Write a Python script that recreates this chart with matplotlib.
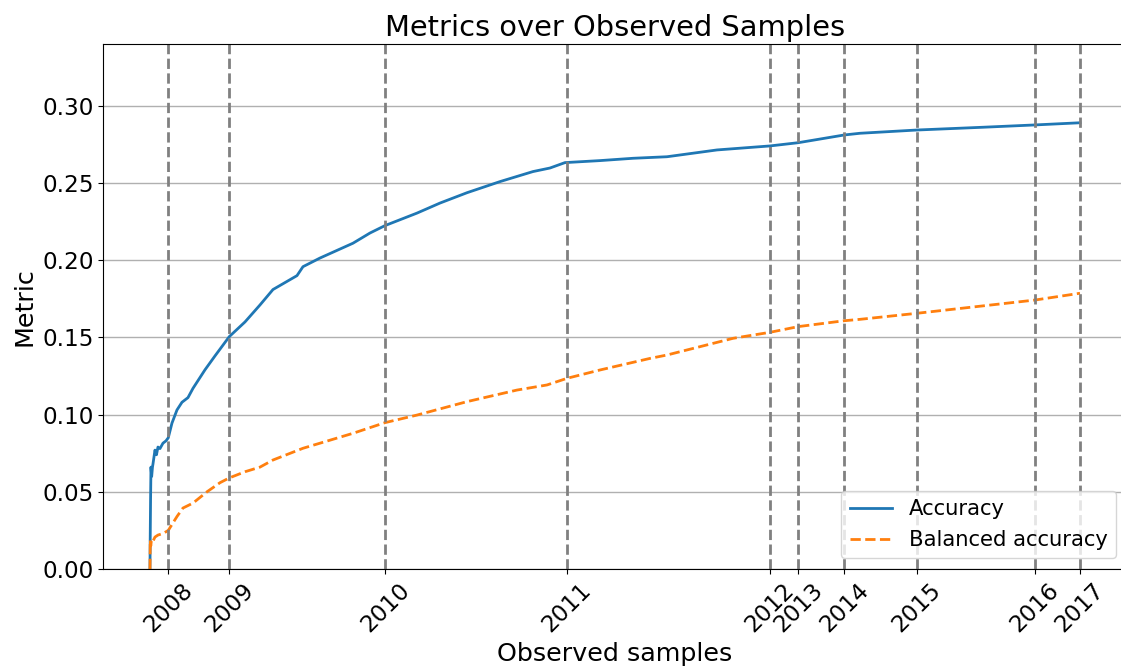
import matplotlib.pyplot as plt

# sample index where each year starts
years = ['2008', '2009', '2010', '2011', '2012', '2013', '2014', '2015', '2016', '2017']
year_start = [1830, 7930, 23500, 41670, 62000, 64830, 69430, 76670, 88500, 93000]

# running accuracy after n observed samples
acc_samples = [0, 20, 60, 100, 170, 250, 300, 500, 650, 800, 1000, 1300, 1600,
               1830, 2200, 2700, 3200, 3800, 4300, 5000, 5500, 6500, 7930, 9500,
               11000, 12300, 14700, 15300, 17000, 20300, 22000, 23500, 26700,
               29000, 31700, 35000, 38300, 40000, 41500, 45000, 48300, 51700,
               56700, 62000, 64830, 69430, 71000, 76670, 83300, 88500, 93000]
accuracy = [0.000, 0.017, 0.045, 0.066, 0.060, 0.066, 0.068, 0.077, 0.074, 0.079,
            0.078, 0.0815, 0.083, 0.085, 0.0945, 0.103, 0.108, 0.111, 0.117, 0.124,
            0.129, 0.138, 0.1505, 0.160, 0.171, 0.181, 0.190, 0.1958, 0.2014, 0.211,
            0.2176, 0.2224, 0.2305, 0.237, 0.2437, 0.2509, 0.2574, 0.2597, 0.2632,
            0.2645, 0.266, 0.267, 0.2714, 0.274, 0.2761, 0.2811, 0.2822, 0.2843,
            0.2861, 0.2876, 0.289]

# running balanced accuracy
bal_samples = [0, 30, 80, 150, 300, 500, 800, 1300, 1830, 2700, 3300, 4300, 5700,
               7000, 7930, 9500, 11000, 12300, 15300, 20300, 23500, 26700, 31700,
               36700, 39700, 41700, 45000, 50000, 51700, 58300, 62000, 64830, 69430,
               71000, 76670, 88500, 93000]
balanced = [0.000, 0.0188, 0.015, 0.019, 0.018, 0.0207, 0.022, 0.023, 0.025, 0.034,
            0.0395, 0.0427, 0.050, 0.0559, 0.059, 0.063, 0.066, 0.0706, 0.0782,
            0.0879, 0.0948, 0.0997, 0.1084, 0.1159, 0.1192, 0.1235, 0.1289, 0.1364,
            0.1386, 0.1494, 0.1533, 0.157, 0.1608, 0.1617, 0.1656, 0.1742, 0.1786]

fig = plt.figure(figsize=(11.21, 6.7), dpi=100)
ax = fig.add_axes([0.0923, 0.1507, 0.9126, 0.7836])

ax.plot(acc_samples, accuracy, color='#1f77b4', lw=2, label='Accuracy')
ax.plot(bal_samples, balanced, color='#ff7f0e', lw=2, ls='--', label='Balanced accuracy')

for xs in year_start:
    ax.axvline(xs, color='gray', ls='--', lw=2)

ax.set_xlim(-4650, 97650)
ax.set_ylim(0, 0.34)
ax.set_xticks(year_start)
ax.set_xticklabels(years, rotation=45, fontsize=16.7)
ax.tick_params(axis='y', labelsize=16.7)
ax.yaxis.grid(True, color='#b0b0b0', lw=1)
ax.set_axisbelow(True)

ax.set_xlabel('Observed samples', fontsize=18.3)
ax.set_ylabel('Metric', fontsize=18.3)
ax.set_title('Metrics over Observed Samples', fontsize=20.8)
ax.legend(loc='lower right', fontsize=15.2)

fig.savefig('out.png', dpi=100)
